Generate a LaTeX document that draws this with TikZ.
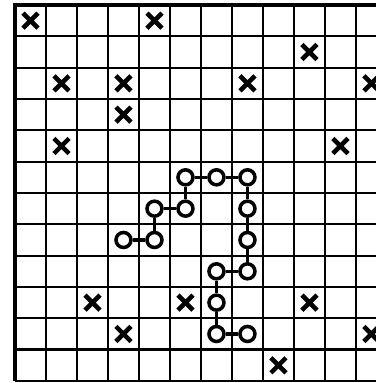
\documentclass[tikz,border=0pt]{standalone}
\usepackage{tikz}
\usetikzlibrary{shapes.misc}

\begin{document}
\begin{tikzpicture}[
        x=0.62cm, y=-0.6267cm,
        gridline/.style={line width=1.3pt},
        border/.style={line width=2.6pt},
        site/.style={
            draw, circle, fill=white, line width=2pt,
            minimum size=0.3cm, inner sep=0pt
        },
        blocked/.style={
            draw, cross out, line width=2.6pt,
            minimum size=0.21cm, inner sep=0pt
        },
        bond/.style={line width=1.9pt}
    ]
    \useasboundingbox (-0.484,-0.16) rectangle (11.645,12.065);
    \clip (-0.484,-0.16) rectangle (11.645,12.065);

    % Grid
    \foreach \i in {1,...,11} \draw[gridline] (\i,0) -- (\i,12);
    \foreach \j in {1,...,12} \draw[gridline] (0,\j) -- (12,\j);
    \draw[border] (12,0) -- (0,0) -- (0,12);

    % Blocked cells
    \foreach \c/\r in {0/0,4/0,9/1,1/2,3/2,7/2,11/2,3/3,1/4,10/4,
                       2/9,5/9,9/9,3/10,11/10,8/11}
        \node[blocked] (x-\c-\r) at (\c+0.5,\r+0.5) {};

    % Chain sites
    \foreach \c/\r in {5/5,6/5,7/5,4/6,5/6,7/6,3/7,4/7,7/7,
                       6/8,7/8,6/9,6/10,7/10}
        \node[site] (s-\c-\r) at (\c+0.5,\r+0.5) {};

    % Bonds
    \foreach \a/\b in {5-5/6-5,6-5/7-5,5-5/5-6,4-6/5-6,4-6/4-7,3-7/4-7,
                       7-5/7-6,7-6/7-7,7-7/7-8,6-8/7-8,6-8/6-9,6-9/6-10,
                       6-10/7-10}
        \draw[bond] (s-\a) -- (s-\b);

\end{tikzpicture}
\end{document}
